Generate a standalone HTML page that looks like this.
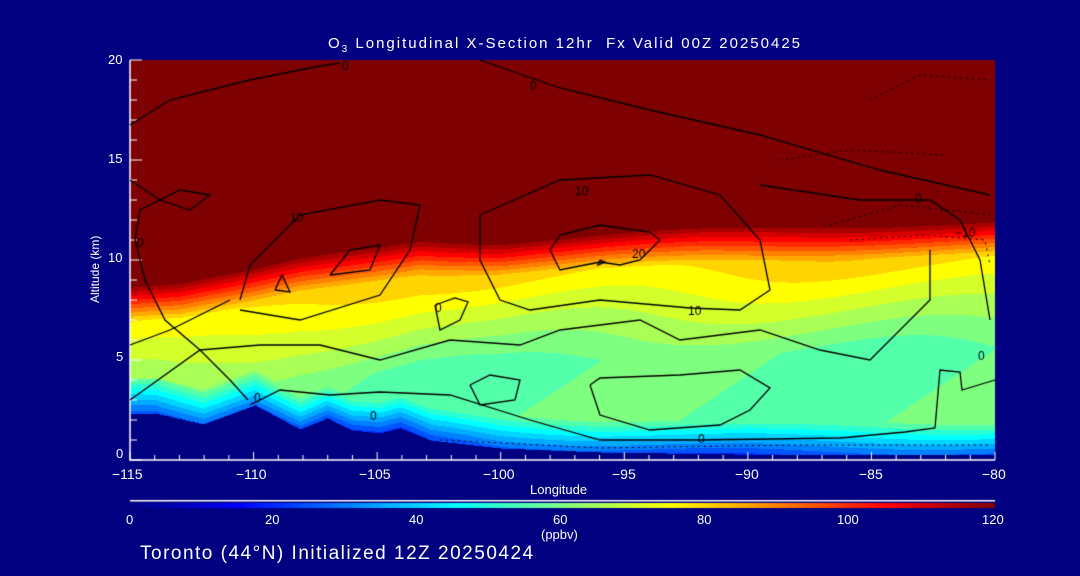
<!DOCTYPE html>
<html><head><meta charset="utf-8"><style>
body{margin:0;width:1080px;height:576px;background:#000080;overflow:hidden;position:relative;font-family:"Liberation Sans",sans-serif;color:#fff}
canvas{position:absolute;left:0;top:0}
.t{position:absolute;white-space:nowrap;font-size:13px}
</style></head><body>
<canvas id="c" width="1080" height="576"></canvas>
<div class="t" style="left:328px;top:35px;font-size:15px;letter-spacing:2.0px">O<sub style="font-size:10px">3</sub> Longitudinal X-Section 12hr&nbsp; Fx Valid 00Z 20250425</div>
<div class="t" style="left:88px;top:303px;transform:rotate(-90deg);transform-origin:0 0;font-size:12px">Altitude (km)</div>
<div class="t" style="left:108px;top:52px">20</div>
<div class="t" style="left:108px;top:151px">15</div>
<div class="t" style="left:108px;top:250px">10</div>
<div class="t" style="left:116px;top:349px">5</div>
<div class="t" style="left:116px;top:446px">0</div>
<div class="t" style="left:112px;top:466px;font-size:14px">−115</div>
<div class="t" style="left:236px;top:466px;font-size:14px">−110</div>
<div class="t" style="left:359px;top:466px;font-size:14px">−105</div>
<div class="t" style="left:483px;top:466px;font-size:14px">−100</div>
<div class="t" style="left:612px;top:466px;font-size:14px">−95</div>
<div class="t" style="left:735px;top:466px;font-size:14px">−90</div>
<div class="t" style="left:859px;top:466px;font-size:14px">−85</div>
<div class="t" style="left:982px;top:466px;font-size:14px">−80</div>
<div class="t" style="left:530px;top:482px">Longitude</div>
<div class="t" style="left:126px;top:512px">0</div>
<div class="t" style="left:265px;top:512px">20</div>
<div class="t" style="left:409px;top:512px">40</div>
<div class="t" style="left:553px;top:512px">60</div>
<div class="t" style="left:697px;top:512px">80</div>
<div class="t" style="left:837px;top:512px">100</div>
<div class="t" style="left:982px;top:512px">120</div>
<div class="t" style="left:541px;top:527px">(ppbv)</div>
<div class="t" style="left:140px;top:543px;font-size:19px;letter-spacing:1.5px">Toronto (44°N) Initialized 12Z 20250424</div>
<script>
const c=document.getElementById('c').getContext('2d');
function jet(t){t=Math.max(0,Math.min(1,t));
 function f(x){return Math.max(0,Math.min(1,x));}
 let r=f(Math.min(4*t-1.5,-4*t+4.5)),g=f(Math.min(4*t-0.5,-4*t+3.5)),b=f(Math.min(4*t+0.5,-4*t+2.5));
 return [r*255|0,g*255|0,b*255|0];}
function interp(pts,x){for(let i=0;i<pts.length-1;i++){if(x<=pts[i+1][0]){let a=pts[i],b=pts[i+1];return a[1]+(b[1]-a[1])*(x-a[0])/(b[0]-a[0]);}}return pts[pts.length-1][1];}
const ground=[[130,414],[155,413],[203,424],[255,405],[300,429],[327,418],[352,430],[380,433],[400,428],[430,440],[500,448],[600,452],[800,455],[995,455]];
const red=[[130,285],[180,283],[250,270],[300,258],[380,245],[420,238],[500,240],[600,233],[700,228],[800,225],[900,222],[995,220]];
const x0=130,x1=995,y0=60,y1=457;
const img=c.createImageData(x1-x0,y1-y0);
for(let x=x0;x<x1;x++){const yr=interp(red,x),yg=interp(ground,x);
 for(let y=y0;y<y1;y++){let v;const d=y-yr;
  if(y>=yg){v=-1;}else if(d<0)v=120;else{
   if(d<35)v=120-d/35*40;else v=Math.max(57,80-(d-35)*0.25);
   const h=yg-y; if(h<35)v=Math.min(v,24+h*1.0);
   v+=3*Math.sin(x/60+y/40);
   v=Math.min(v,120);}
  let col;if(v<0)col=[0,0,128];else{v=Math.round(v/5)*5;col=jet(v/120);}
  const i=((y-y0)*(x1-x0)+(x-x0))*4;img.data[i]=col[0];img.data[i+1]=col[1];img.data[i+2]=col[2];img.data[i+3]=255;}}
c.putImageData(img,x0,y0);
for(let x=130;x<995;x++){const col=jet((x-130)/865);c.fillStyle=`rgb(${col})`;c.fillRect(x,503,1,5);}
c.fillStyle='#fff';c.fillRect(130,500,865,1.5);
c.strokeStyle='#fff';c.lineWidth=1.5;c.beginPath();c.moveTo(130,60);c.lineTo(130,460);c.lineTo(995,460);c.stroke();
c.lineWidth=1;c.beginPath();
for(let i=0;i<=35;i++){const x=130+i*865/35;c.moveTo(x,460);c.lineTo(x,i%5==0?452:455);}
for(let i=0;i<=20;i++){const y=460-i*20;c.moveTo(130,y);c.lineTo(i%5==0?142:137,y);}
c.stroke();
c.strokeStyle='#000';c.lineWidth=1.3;
const L=[
[[130,125],[170,100],[250,80],[320,66],[340,63]],
[[480,60],[560,88],[650,110],[760,135],[880,170],[990,195]],
[[130,180],[160,200],[190,210],[210,195],[180,190],[140,210],[135,240],[145,280],[165,320],[200,350],[230,380],[248,400]],
[[240,300],[250,265],[300,215],[380,200],[420,205],[410,250],[380,295],[300,320],[240,310]],
[[275,290],[282,275],[290,292],[275,290]],
[[330,275],[350,250],[380,245],[370,270],[330,275]],
[[130,345],[170,330],[230,300]],
[[480,215],[560,180],[650,175],[720,195],[760,240],[770,290],[740,310],[690,308],[600,300],[530,310],[500,300],[480,260],[480,215]],
[[550,250],[560,235],[600,225],[650,232],[660,240],[640,260],[620,265],[600,262],[560,270],[550,250]],
[[600,260],[605,262],[598,265],[600,260]],
[[760,185],[860,200],[930,200],[960,220],[980,260],[990,320]],
[[130,400],[200,350],[260,345],[320,345],[380,360],[450,340],[520,345],[560,330],[640,320],[680,340],[760,330],[820,350],[870,360],[930,300],[930,250]],
[[470,385],[490,375],[520,380],[515,400],[480,405],[470,385]],
[[590,385],[600,378],[680,375],[740,370],[770,388],[750,410],[720,425],[650,430],[600,415],[590,385]],
[[250,405],[280,390],[330,395],[380,392],[450,395],[530,420],[600,440],[700,440],[840,438],[905,432],[935,428],[940,370],[960,372],[962,390],[995,380]],
[[435,305],[455,298],[468,302],[460,320],[440,330],[435,305]]
];
for(const p of L){c.beginPath();c.moveTo(p[0][0],p[0][1]);for(const q of p.slice(1))c.lineTo(q[0],q[1]);c.stroke();}
c.setLineDash([2,4]);c.lineWidth=1;
const D=[[[780,160],[850,150],[945,155]],[[870,100],[920,75],[990,80]],[[830,225],[900,205],[990,215]],[[850,240],[930,235],[985,240],[990,265]],[[440,440],[600,448],[800,445],[990,445]]];
for(const p of D){c.beginPath();c.moveTo(p[0][0],p[0][1]);for(const q of p.slice(1))c.lineTo(q[0],q[1]);c.stroke();}
c.setLineDash([]);
c.fillStyle='#000';c.font='12px "Liberation Sans",sans-serif';
[['0',342,70],['0',530,90],['10',575,195],['10',290,222],['0',137,247],['20',632,258],['10',688,315],['0',435,312],['0',254,402],['0',370,420],['0',698,443],['0',915,203],['−10',955,237],['0',978,360]].forEach(a=>c.fillText(a[0],a[1],a[2]));
</script>
</body></html>
